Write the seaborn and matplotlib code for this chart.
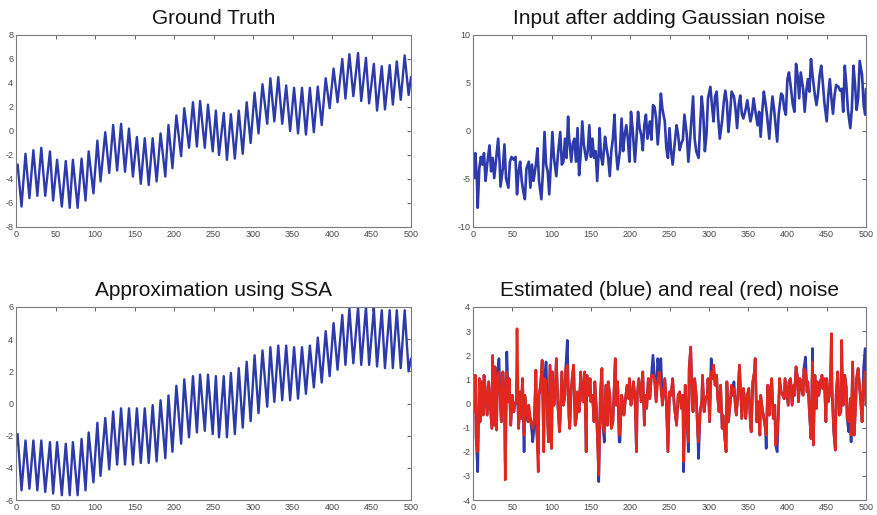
import matplotlib
matplotlib.use("Agg")
import matplotlib.pyplot as plt
import seaborn as sns
import pandas as pd

# ---------------- data ----------------
# sample positions of the peaks / troughs of the smooth signals
osc_x = [0, 2, 7, 12, 17, 22, 27, 32, 37, 43,
         47, 52, 58, 63, 68, 72, 78, 83, 88, 92,
         98, 103, 107, 113, 118, 123, 128, 133, 138, 143,
         148, 153, 158, 163, 168, 173, 178, 183, 189, 193,
         198, 203, 209, 213, 219, 224, 229, 233, 239, 243,
         249, 253, 257, 263, 267, 272, 277, 282, 287, 292,
         297, 302, 307, 312, 318, 322, 327, 332, 337, 342,
         347, 352, 357, 362, 367, 372, 377, 382, 387, 392,
         397, 402, 407, 413, 417, 422, 427, 433, 437, 443,
         447, 453, 457, 463, 467, 473, 477, 482, 487, 492,
         497, 500]

truth_y = [-3.3, -2.8, -6.3, -1.9, -5.6, -1.6, -5.4, -1.4, -5.4, -1.7,
           -5.8, -2.4, -6.3, -2.5, -6.4, -2.4, -6.4, -2.3, -5.8, -1.7,
           -5.2, -0.8, -4.2, -0.1, -3.5, 0.5, -3.3, 0.6, -3.4, 0.2,
           -3.8, -0.5, -4.4, -0.6, -4.5, -0.6, -4.2, -0.2, -3.8, 0.5,
           -3.1, 1.3, -2.1, 1.9, -1.4, 2.4, -1.3, 2.5, -1.4, 2.2,
           -1.7, 1.7, -2.0, 1.5, -2.4, 1.4, -2.3, 1.7, -1.9, 2.4,
           -1.0, 3.2, -0.2, 3.9, 0.6, 4.4, 0.8, 4.5, 0.6, 3.8,
           0.0, 3.6, -0.2, 3.6, -0.3, 3.6, -0.1, 3.7, 0.5, 4.4,
           1.9, 5.2, 2.4, 6.0, 2.7, 6.4, 2.9, 6.5, 2.5, 6.1,
           2.3, 5.6, 1.7, 5.4, 1.8, 5.5, 2.2, 5.8, 2.6, 6.3,
           3.0, 4.5]

ssa_y = [-2.6, -1.9, -5.4, -2.3, -5.3, -2.3, -5.4, -2.3, -5.5, -2.4,
         -5.6, -2.4, -5.7, -2.5, -5.7, -2.4, -5.7, -2.2, -5.4, -1.8,
         -4.9, -1.2, -4.5, -0.9, -4.1, -0.5, -3.8, -0.3, -3.8, -0.3,
         -3.8, -0.3, -3.7, -0.3, -3.7, -0.1, -3.6, 0.2, -3.4, 0.5,
         -3.0, 1.1, -2.5, 1.5, -2.1, 1.7, -1.8, 1.8, -1.7, 1.8,
         -1.9, 1.7, -2.1, 1.7, -2.1, 1.9, -1.9, 2.2, -1.5, 2.6,
         -1.1, 3.0, -0.6, 3.3, -0.2, 3.5, 0.1, 3.6, 0.2, 3.6,
         0.2, 3.5, 0.3, 3.5, 0.6, 3.6, 1.0, 4.1, 1.3, 4.5,
         1.7, 5.0, 2.1, 5.5, 2.4, 5.9, 2.5, 6.0, 2.4, 6.0,
         2.4, 5.9, 2.3, 5.8, 2.2, 5.8, 2.2, 5.8, 2.2, 5.8,
         2.0, 2.8]

# noisy input (ground truth + gaussian noise)
input_x = [0, 2, 3, 5, 6, 8, 10, 12, 14, 16,
           18, 21, 23, 25, 27, 30, 32, 34, 35, 38,
           40, 42, 45, 47, 49, 52, 54, 56, 58, 60,
           62, 64, 66, 68, 71, 73, 75, 77, 80, 82,
           84, 87, 89, 91, 93, 95, 97, 99, 101, 103,
           106, 108, 111, 113, 115, 117, 119, 121, 122, 125,
           127, 129, 131, 133, 135, 137, 139, 141, 144, 146,
           148, 150, 152, 154, 156, 158, 160, 161, 163, 165,
           168, 170, 172, 174, 176, 178, 180, 182, 184, 187,
           189, 191, 193, 195, 197, 199, 201, 203, 206, 208,
           210, 212, 214, 216, 218, 220, 222, 225, 227, 229,
           231, 233, 235, 237, 239, 241, 244, 246, 248, 250,
           252, 254, 256, 259, 261, 263, 265, 267, 269, 272,
           274, 276, 278, 280, 282, 284, 287, 289, 291, 293,
           295, 297, 299, 302, 304, 306, 308, 310, 312, 314,
           317, 319, 321, 323, 325, 327, 329, 332, 334, 336,
           338, 340, 342, 344, 347, 349, 351, 353, 355, 357,
           359, 362, 364, 366, 368, 370, 372, 374, 377, 379,
           381, 383, 385, 387, 389, 392, 394, 396, 398, 400,
           402, 404, 407, 409, 411, 413, 415, 417, 420, 422,
           424, 426, 428, 430, 432, 435, 437, 439, 441, 443,
           445, 447, 450, 452, 454, 456, 458, 460, 462, 465,
           467, 469, 471, 473, 475, 477, 480, 482, 484, 486,
           488, 490, 492, 495, 497, 499, 500]

input_y = [-2.8, -4.9, -2.3, -5.2, -8.0, -3.9, -2.7, -3.5, -2.3, -5.2,
           -3.5, -1.5, -4.2, -2.8, -4.9, -2.5, -0.8, -3.5, -5.8, -3.9,
           -1.4, -4.9, -5.9, -3.2, -2.7, -3.0, -2.7, -6.6, -4.2, -3.2,
           -5.2, -6.3, -7.1, -3.9, -3.2, -5.9, -3.5, -5.2, -3.5, -1.8,
           -5.2, -7.1, -4.2, -0.1, -3.5, -4.2, -6.6, -3.5, -0.1, -2.8,
           -4.7, -2.5, -0.1, -3.5, -3.2, -0.8, -2.8, 1.5, -0.4, -3.2,
           -1.3, -0.8, -3.2, 0.3, -4.6, -2.5, 1.0, -1.4, -3.0, -2.1,
           0.6, -2.7, -0.8, -2.8, -2.1, -5.2, -2.1, 0.3, -2.7, -3.5,
           -0.6, -1.8, -2.8, -4.7, -2.1, -0.8, 1.7, -2.1, -4.0, -2.1,
           1.3, -2.1, -0.4, 0.6, -0.8, -3.2, 2.0, 0.3, -3.2, -0.8,
           2.0, 0.3, -0.4, -2.0, 0.6, 1.7, -0.8, 1.0, -0.9, 2.7,
           2.5, 1.3, -1.4, 0.6, 3.9, 2.3, 1.0, -1.8, -2.8, 0.3,
           -2.1, -3.5, -1.8, 0.6, -0.4, -2.0, -1.3, -0.9, 1.7, -0.4,
           -3.2, -1.1, 1.3, 3.6, -0.8, -2.1, -2.8, 0.6, 3.6, 1.7,
           -2.1, -0.4, 3.4, 4.6, 2.7, 1.0, 3.6, 4.1, 1.3, -0.8,
           1.1, 3.0, 4.2, 3.0, -0.1, 1.7, 4.1, 3.6, 2.3, 0.3,
           2.7, 3.7, 1.8, 1.3, 2.3, 3.2, 2.0, 1.0, 1.8, 3.4,
           2.2, 0.6, 2.0, -0.6, 2.0, 4.1, 3.0, 1.7, -0.8, 1.7,
           3.6, 2.3, 0.6, -1.1, 1.8, 3.9, 3.7, 2.3, 1.7, 5.4,
           6.1, 4.8, 2.7, 2.0, 7.0, 5.8, 3.4, 6.1, 4.4, 2.0,
           4.1, 5.4, 4.1, 7.5, 5.8, 3.7, 2.7, 3.9, 5.8, 6.8,
           5.1, 3.0, 1.0, 3.7, 5.4, 3.4, 1.8, 3.7, 4.8, 4.6,
           4.2, 4.4, 2.0, 6.8, 4.8, 2.2, 0.3, 2.3, 6.8, 4.9,
           2.2, 3.4, 7.3, 5.8, 2.7, 1.7, 4.4]

# estimated (blue) and real (red) noise
noise_x = [0, 2, 3, 4, 6, 8, 9, 11, 13, 14,
           16, 18, 20, 22, 24, 25, 27, 28, 30, 31,
           33, 35, 36, 38, 40, 41, 43, 45, 46, 48,
           50, 52, 53, 55, 56, 58, 60, 61, 63, 65,
           66, 68, 70, 71, 73, 75, 76, 78, 80, 81,
           83, 84, 86, 88, 90, 91, 93, 95, 96, 98,
           100, 101, 103, 105, 106, 108, 110, 111, 113, 115,
           117, 118, 120, 122, 123, 125, 127, 128, 130, 132,
           133, 135, 137, 138, 140, 142, 144, 145, 147, 149,
           150, 152, 154, 155, 157, 159, 160, 162, 164, 165,
           167, 169, 171, 172, 174, 176, 178, 181, 182, 184,
           186, 187, 189, 191, 192, 194, 196, 198, 199, 201,
           203, 204, 206, 208, 209, 211, 213, 214, 216, 218,
           219, 221, 223, 225, 227, 229, 231, 233, 235, 237,
           239, 241, 244, 246, 248, 250, 252, 254, 256, 259,
           261, 263, 265, 267, 268, 270, 272, 274, 275, 277,
           279, 280, 282, 284, 286, 287, 289, 291, 292, 294,
           296, 298, 299, 301, 303, 304, 306, 308, 310, 311,
           313, 315, 317, 318, 320, 322, 323, 325, 327, 329,
           330, 332, 334, 335, 337, 339, 341, 342, 344, 346,
           347, 349, 351, 353, 354, 356, 358, 359, 361, 363,
           365, 366, 368, 370, 372, 373, 375, 377, 378, 380,
           382, 384, 385, 387, 389, 390, 392, 394, 396, 397,
           399, 401, 402, 404, 406, 408, 409, 411, 413, 414,
           416, 418, 420, 421, 423, 425, 426, 428, 430, 432,
           433, 435, 437, 438, 440, 442, 444, 445, 447, 449,
           450, 452, 454, 456, 457, 459, 461, 462, 464, 466,
           468, 469, 471, 473, 475, 476, 478, 480, 481, 483,
           485, 487, 488, 490, 492, 493, 495, 497, 499, 500]

noise_red = [0.34, -0.34, 1.17, -1.45, -2.0, 1.03, -0.76, 0.9, -0.48, 1.17,
             0.48, -0.48, 0.9, -0.07, -1.03, 2.0, -0.9, 1.52, -1.1, 1.03,
             1.3, -0.07, -0.76, 1.31, 0.2, -3.17, 1.3, 0.07, 1.03, -0.9,
             0.34, -0.34, -0.07, 0.07, 3.1, -1.03, 0.48, -0.62, 1.03, -1.31,
             0.34, -0.2, -0.76, -0.07, -0.62, -0.9, -1.03, -0.62, 1.38, -1.03,
             -2.83, 0.34, 0.76, 1.79, -2.0, 1.03, 0.9, -0.76, -1.59, 1.59,
             -1.86, 1.31, -0.07, 0.76, 1.86, -0.07, -1.17, -0.62, 1.31, -0.07,
             0.34, 1.45, 1.59, -0.48, -1.03, 0.62, 1.31, 1.59, -0.9, -0.48,
             0.48, -0.34, 1.31, 0.76, 0.07, 1.31, -2.0, 1.17, 0.34, 1.03,
             0.07, 0.34, -0.76, 0.9, -0.2, -2.0, -2.97, 0.34, 1.45, -0.76,
             -1.17, 0.76, -0.9, 0.9, 0.34, -1.03, -0.76, 1.86, -0.07, 0.9,
             -1.31, -1.03, 0.34, -0.07, -0.48, 0.2, 0.76, 0.2, 1.03, -0.07,
             0.34, 0.9, 0.34, -2.0, 0.34, 1.03, 0.48, 0.07, 1.31, -0.9,
             0.34, -0.2, 1.03, 0.2, 1.17, 1.17, 1.03, 0.07, 0.9, 1.31,
             0.62, -0.07, 1.03, 0.07, -2.0, 0.48, 0.34, 1.03, -0.07, -0.9,
             0.34, 0.48, -0.2, 0.34, -2.41, 0.76, -0.48, -1.59, 1.45, 2.34,
             -0.07, -0.34, 1.03, 0.34, -1.31, -1.59, -0.34, 0.07, 1.17, -0.34,
             0.2, 0.34, 1.03, -0.76, 1.31, 1.03, 1.59, 0.76, 1.17, 0.34,
             -0.34, 0.76, -1.03, -0.48, -1.31, -2.0, 0.9, -0.76, -0.07, 0.76,
             0.34, 0.62, -0.2, -0.48, 0.34, 1.59, 0.07, -0.62, 0.62, 0.07,
             -0.62, 0.34, 0.62, -0.9, -1.17, 0.9, 1.31, 1.86, -0.76, 0.07,
             -1.31, 0.34, -0.2, -0.62, -1.03, -1.31, 0.76, -0.48, 0.34, 1.03,
             -0.62, -0.07, -1.72, -1.31, -0.07, 1.03, 0.48, 0.34, 0.2, 1.03,
             0.48, -0.07, 0.9, 1.03, -0.07, 0.76, 0.34, 1.52, 1.03, 0.07,
             1.03, 0.62, 0.34, 1.45, 1.31, 0.48, 0.9, -0.34, -1.45, 1.72,
             -1.72, 1.17, -0.2, 0.9, 0.34, 0.9, 1.17, 0.62, 1.03, -0.76,
             1.03, 0.07, 0.48, 2.9, 0.34, -1.17, -1.93, 0.34, 1.31, -0.48,
             -0.34, 2.62, -0.07, 1.17, 0.62, -0.62, -0.76, 0.2, -1.31, 1.72,
             -1.31, 0.07, 1.03, 1.45, 0.62, 0.2, -0.76, 0.9, 1.31, -0.07]

noise_blue = [0.34, -0.34, 1.17, -1.45, -2.83, 1.03, -0.76, 0.9, -0.48, 1.17,
              0.48, -0.48, 0.9, -0.07, -1.03, 1.6, -0.9, 1.52, -1.1, 1.03,
              1.86, -0.07, -0.76, 1.31, 0.2, -2.4, 2.14, 0.07, 1.03, -0.9,
              0.34, -0.34, -0.07, 0.07, 1.0, -1.03, 0.48, -0.62, 1.03, -2.0,
              0.34, -0.5, -0.76, -0.4, -0.62, -1.2, -1.59, -0.9, 1.38, -1.03,
              -2.1, 0.34, 0.76, 1.79, -2.0, 1.03, 1.72, -0.76, -1.59, 1.59,
              -1.86, 1.31, -0.07, 0.76, 1.86, -0.07, -1.17, -0.62, 1.31, -0.07,
              0.34, 1.45, 2.62, -0.48, -1.03, 0.62, 1.31, 1.59, -0.9, -0.48,
              0.48, -0.34, 1.31, 0.76, 0.07, 1.31, -2.0, 1.17, 0.34, 1.03,
              0.07, 0.34, -0.76, 0.9, -0.2, -2.0, -3.24, 0.34, 1.45, -0.76,
              -1.6, 0.76, -0.9, 0.9, 0.34, -1.03, -0.76, 1.86, -0.07, 0.9,
              -1.6, -1.59, 0.34, -0.07, -0.48, 0.2, 0.76, 0.2, 1.03, -0.07,
              0.34, 0.9, 0.34, -2.0, 0.34, 1.03, 0.48, 0.07, 1.31, -0.9,
              0.34, -0.2, 1.03, 0.2, 1.17, 2.0, 1.03, 0.07, 1.86, 1.31,
              1.86, -0.07, 1.03, 0.07, -2.0, 0.48, 0.34, 1.03, -0.07, -0.9,
              0.34, 0.48, -0.2, 0.34, -2.83, 0.76, -0.48, -2.0, 1.45, 2.34,
              -0.07, -0.34, 1.03, 0.34, -1.31, -2.28, -0.34, 0.07, 1.17, -0.34,
              0.2, 0.34, 1.03, -0.76, 1.86, 1.03, 1.59, 0.76, 1.17, 0.34,
              -0.34, 0.76, -1.03, -0.48, -1.31, -2.0, 0.9, -0.76, -0.07, 0.76,
              0.34, 0.9, -0.2, -0.48, 0.34, 1.59, 0.07, -0.62, 0.62, 0.07,
              -0.62, 0.34, 0.62, -0.9, -1.17, 0.9, 1.31, 1.86, -0.76, 0.07,
              -1.31, 0.34, -0.2, -0.62, -1.03, -1.86, 0.76, -0.48, 0.34, 1.03,
              -0.62, -0.07, -1.72, -2.0, -0.07, 1.03, 0.48, 0.34, 0.2, 1.03,
              0.48, -0.07, 0.9, 1.03, -0.07, 0.76, 0.34, 1.52, 1.03, 0.07,
              1.03, 0.62, 0.34, 1.45, 1.93, 0.48, 0.9, -0.34, -1.45, 2.28,
              -1.72, 1.17, -0.2, 0.9, 0.34, 0.9, 1.17, 0.62, 1.03, -0.76,
              1.03, 0.07, 0.48, 1.4, 0.34, -1.17, -1.93, 0.34, 1.31, -0.48,
              -0.34, 1.5, -0.07, 1.17, 0.62, -0.62, -1.17, 0.2, -1.59, 1.72,
              -1.31, 0.07, 1.03, 1.45, 0.62, 0.2, -0.76, 1.52, 2.28, -0.07]

titles = ["Ground Truth", "Input after adding Gaussian noise",
          "Approximation using SSA", "Estimated (blue) and real (red) noise"]
x_ticks = [0, 50, 100, 150, 200, 250, 300, 350, 400, 450, 500]
y_ticks_truth = [-8, -6, -4, -2, 0, 2, 4, 6, 8]
y_ticks_input = [-10, -5, 0, 5, 10]
y_ticks_ssa = [-6, -4, -2, 0, 2, 4, 6]
y_ticks_noise = [-4, -3, -2, -1, 0, 1, 2, 3, 4]

# ---------------- drawing ----------------
sns.set_style("white")
plt.rcParams['font.family'] = ['Liberation Sans', 'DejaVu Sans']
plt.rcParams['axes.unicode_minus'] = False

BLUE = '#2d3aab'
RED = '#e2281e'
LW = 1.7
LW_NOISY = 1.9
W, H = 877.0, 515.0

fig = plt.figure(figsize=(8.77, 5.15), dpi=100)


def make_ax(left, top, right, bottom):
    return fig.add_axes([left / W, (H - bottom) / H, (right - left) / W, (bottom - top) / H])


ax_tl = make_ax(16, 35, 411, 227)
ax_tr = make_ax(473, 35, 866, 227)
ax_bl = make_ax(16, 307, 411, 500)
ax_br = make_ax(473, 307, 866, 500)


def style(ax, yticks, title):
    ax.set_xlim(0, 500)
    ax.set_ylim(yticks[0], yticks[-1])
    ax.set_xticks(x_ticks)
    ax.set_yticks(yticks)
    ax.tick_params(direction='in', length=3, width=0.7, top=True, right=True,
                   labelsize=6.5, labelcolor='#4a4a4a', color='#666666', pad=2)
    for s in ax.spines.values():
        s.set_color('#7a7a7a')
        s.set_linewidth(0.8)
    ax.set_title(title, fontsize=15, pad=8, color='#151515')
    ax.set_xlabel('')
    ax.set_ylabel('')
    if ax.get_legend() is not None:
        ax.get_legend().remove()


df_truth = pd.DataFrame({'t': osc_x, 'v': truth_y})
df_ssa = pd.DataFrame({'t': osc_x, 'v': ssa_y})
df_input = pd.DataFrame({'t': input_x, 'v': input_y})
df_noise = pd.DataFrame({'t': noise_x, 'blue': noise_blue, 'red': noise_red})

sns.lineplot(data=df_truth, x='t', y='v', ax=ax_tl, color=BLUE, linewidth=LW,
             estimator=None, sort=False)
sns.lineplot(data=df_input, x='t', y='v', ax=ax_tr, color=BLUE, linewidth=LW_NOISY,
             estimator=None, sort=False)
sns.lineplot(data=df_ssa, x='t', y='v', ax=ax_bl, color=BLUE, linewidth=LW,
             estimator=None, sort=False)
sns.lineplot(data=df_noise, x='t', y='blue', ax=ax_br, color=BLUE, linewidth=LW_NOISY,
             estimator=None, sort=False)
sns.lineplot(data=df_noise, x='t', y='red', ax=ax_br, color=RED, linewidth=LW_NOISY,
             estimator=None, sort=False)

style(ax_tl, y_ticks_truth, titles[0])
style(ax_tr, y_ticks_input, titles[1])
style(ax_bl, y_ticks_ssa, titles[2])
style(ax_br, y_ticks_noise, titles[3])

fig.savefig("out.png", dpi=100)
